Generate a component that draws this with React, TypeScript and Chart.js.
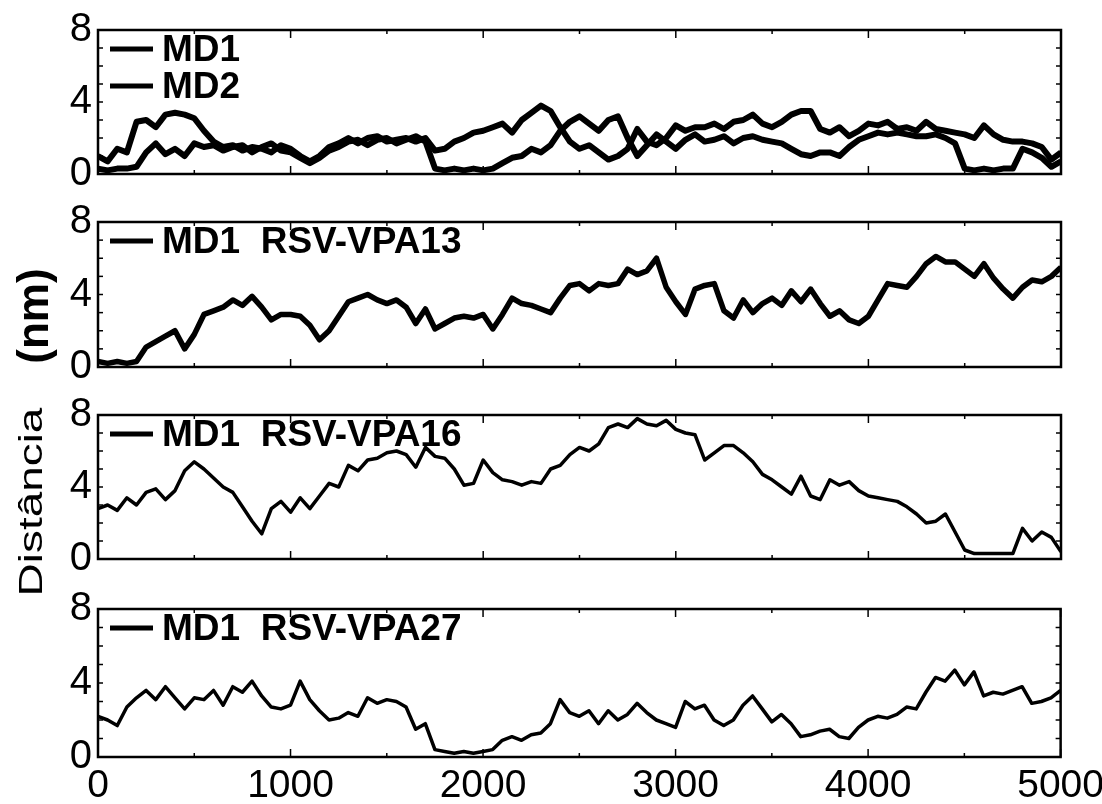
import React, { useEffect, useRef } from 'react';
import { Chart, registerables } from 'chart.js';

Chart.register(...registerables);

// ---------- data ----------
// simulation frames (x), sampled every 50 frames from 0 to 5000
const frames = Array.from({ length: 101 }, (_, i) => i * 50);

const xTickStep = 1000;
const xMinorStep = 500;
const yTickStep = 4;
const yMinorStep = 1;
const xMax = 5000;
const yMax = 8;

const md1 = [
  1.0, 0.7, 1.4, 1.2, 2.9, 3.0, 2.6, 3.3, 3.4, 3.3,
  3.1, 2.4, 1.8, 1.5, 1.6, 1.3, 1.5, 1.4, 1.2, 1.6,
  1.4, 1.0, 0.7, 1.0, 1.5, 1.7, 2.0, 1.7, 2.0, 2.1,
  1.8, 1.9, 2.0, 1.8, 2.0, 1.3, 1.4, 1.8, 2.0, 2.3,
  2.4, 2.6, 2.8, 2.3, 3.0, 3.4, 3.8, 3.5, 2.6, 1.8,
  1.4, 1.6, 1.2, 0.8, 1.0, 1.4, 2.5, 1.8, 1.6, 2.0,
  2.7, 2.4, 2.6, 2.6, 2.8, 2.5, 2.9, 3.0, 3.3, 2.8,
  2.6, 2.9, 3.3, 3.5, 3.5, 2.5, 2.3, 2.6, 2.1, 2.4,
  2.8, 2.7, 2.9, 2.5, 2.6, 2.4, 2.9, 2.5, 2.4, 2.3,
  2.2, 2.0, 2.7, 2.2, 1.9, 1.8, 1.8, 1.7, 1.5, 0.8,
  1.2,
];

const md2 = [
  0.3, 0.2, 0.3, 0.3, 0.4, 1.2, 1.7, 1.1, 1.4, 1.0,
  1.7, 1.5, 1.6, 1.3, 1.5, 1.6, 1.2, 1.5, 1.7, 1.3,
  1.2, 0.9, 0.6, 0.9, 1.3, 1.5, 1.8, 1.9, 1.6, 1.9,
  2.0, 1.7, 1.9, 2.1, 1.8, 0.3, 0.2, 0.3, 0.2, 0.3,
  0.2, 0.3, 0.6, 0.9, 1.0, 1.4, 1.2, 1.6, 2.4, 2.9,
  3.2, 2.8, 2.4, 3.0, 3.2, 2.0, 1.0, 1.6, 2.2, 1.8,
  1.4, 1.9, 2.2, 1.8, 1.9, 2.1, 1.7, 2.0, 2.1, 1.9,
  1.8, 1.7, 1.4, 1.1, 1.0, 1.2, 1.2, 1.0, 1.5, 1.9,
  2.1, 2.3, 2.2, 2.3, 2.2, 2.1, 2.1, 2.2, 2.0, 1.7,
  0.3, 0.2, 0.3, 0.2, 0.3, 0.3, 1.4, 1.2, 0.9, 0.4,
  0.7,
];

const vpa13 = [
  0.3, 0.2, 0.3, 0.2, 0.3, 1.1, 1.4, 1.7, 2.0, 1.0,
  1.8, 2.9, 3.1, 3.3, 3.7, 3.4, 3.9, 3.3, 2.6, 2.9,
  2.9, 2.8, 2.3, 1.5, 2.0, 2.8, 3.6, 3.8, 4.0, 3.7,
  3.5, 3.7, 3.3, 2.4, 3.2, 2.1, 2.4, 2.7, 2.8, 2.7,
  2.9, 2.1, 2.9, 3.8, 3.5, 3.4, 3.2, 3.0, 3.8, 4.5,
  4.6, 4.2, 4.6, 4.5, 4.6, 5.4, 5.1, 5.3, 6.0, 4.4,
  3.6, 2.9, 4.3, 4.5, 4.6, 3.1, 2.7, 3.7, 3.0, 3.5,
  3.8, 3.4, 4.2, 3.6, 4.3, 3.5, 2.8, 3.1, 2.6, 2.4,
  2.8, 3.7, 4.6, 4.5, 4.4, 5.0, 5.7, 6.1, 5.8, 5.8,
  5.4, 5.0, 5.7, 4.9, 4.3, 3.8, 4.4, 4.8, 4.7, 5.0,
  5.5,
];

const vpa16 = [
  2.8, 3.0, 2.7, 3.4, 3.0, 3.7, 3.9, 3.3, 3.8, 4.9,
  5.4, 5.0, 4.5, 4.0, 3.7, 2.9, 2.1, 1.4, 2.8, 3.2,
  2.6, 3.4, 2.8, 3.5, 4.2, 4.0, 5.2, 4.9, 5.5, 5.6,
  5.9, 6.0, 5.8, 5.1, 6.2, 5.7, 5.6, 5.0, 4.1, 4.2,
  5.5, 4.8, 4.4, 4.3, 4.1, 4.3, 4.2, 5.0, 5.2, 5.8,
  6.2, 6.0, 6.4, 7.3, 7.5, 7.3, 7.8, 7.5, 7.4, 7.7,
  7.2, 7.0, 6.9, 5.5, 5.9, 6.3, 6.3, 5.9, 5.4, 4.7,
  4.4, 4.0, 3.6, 4.6, 3.5, 3.3, 4.4, 4.1, 4.3, 3.8,
  3.5, 3.4, 3.3, 3.2, 2.9, 2.5, 2.0, 2.1, 2.5, 1.5,
  0.5, 0.3, 0.3, 0.3, 0.3, 0.3, 1.7, 1.0, 1.5, 1.2,
  0.4,
];

const vpa27 = [
  2.2, 2.0, 1.7, 2.7, 3.2, 3.6, 3.1, 3.8, 3.2, 2.6,
  3.2, 3.1, 3.6, 2.8, 3.8, 3.5, 4.1, 3.3, 2.7, 2.6,
  2.8, 4.1, 3.1, 2.5, 2.0, 2.1, 2.4, 2.2, 3.2, 2.9,
  3.1, 3.0, 2.7, 1.5, 1.8, 0.4, 0.3, 0.2, 0.3, 0.2,
  0.3, 0.4, 0.9, 1.1, 0.9, 1.2, 1.3, 1.8, 3.1, 2.4,
  2.2, 2.5, 1.8, 2.5, 2.0, 2.3, 2.9, 2.4, 2.0, 1.8,
  1.6, 3.0, 2.6, 2.8, 2.0, 1.7, 2.0, 2.8, 3.3, 2.6,
  1.9, 2.3, 1.8, 1.1, 1.2, 1.4, 1.5, 1.1, 1.0, 1.6,
  2.0, 2.2, 2.1, 2.3, 2.7, 2.6, 3.5, 4.3, 4.1, 4.7,
  3.9, 4.6, 3.3, 3.5, 3.4, 3.6, 3.8, 2.9, 3.0, 3.2,
  3.6,
];

const panelLabels = [
  ['MD1', 'MD2'],
  ['MD1  RSV-VPA13'],
  ['MD1  RSV-VPA16'],
  ['MD1  RSV-VPA27'],
];
const panelSeries = [[md1, md2], [vpa13], [vpa16], [vpa27]];

const yTitleRegular = 'Distância';
const yTitleBold = '(nm)';

// ---------- layout ----------
const CANVAS_W = 1110;
const PAD_TOP = 30;
const AXIS_W = 98;
const PAD_RIGHT = 49;
const panelBoxes = [
  { top: 30, bottom: 179, line: 6, showX: false },
  { top: 222, bottom: 372, line: 5.5, showX: false },
  { top: 415, bottom: 564, line: 3.5, showX: false },
  { top: 609, bottom: 757, line: 3.5, showX: true },
];
const FONT = "'Liberation Sans', Arial, Helvetica, sans-serif";

const framePlugin = {
  id: 'frameTicks',
  afterDatasetsDraw(chart: any) {
    const { ctx, chartArea: a } = chart;
    const x = chart.scales.x;
    const y = chart.scales.y;
    ctx.save();
    ctx.strokeStyle = '#000';
    ctx.lineWidth = 2.5;
    ctx.strokeRect(a.left, a.top, a.right - a.left, a.bottom - a.top);
    ctx.lineWidth = 1.5;
    const seg = (x1: number, y1: number, x2: number, y2: number) => {
      ctx.beginPath();
      ctx.moveTo(x1, y1);
      ctx.lineTo(x2, y2);
      ctx.stroke();
    };
    for (let v = 0; v <= xMax; v += xMinorStep) {
      const px = x.getPixelForValue(v);
      const len = v % xTickStep === 0 ? 8 : 4;
      seg(px, a.top, px, a.top + len);
      seg(px, a.bottom, px, a.bottom - len);
    }
    for (let v = 0; v <= yMax; v += yMinorStep) {
      const py = y.getPixelForValue(v);
      seg(a.left, py, a.left + 5, py);
      seg(a.right, py, a.right - 5, py);
    }
    ctx.restore();
  },
};

const legendPlugin = {
  id: 'panelLegend',
  afterDraw(chart: any) {
    const { ctx, chartArea: a } = chart;
    ctx.save();
    chart.data.datasets.forEach((ds: any, i: number) => {
      const yy = a.top + 19 + i * 37;
      ctx.strokeStyle = '#000';
      ctx.lineWidth = 5;
      ctx.beginPath();
      ctx.moveTo(a.left + 12, yy);
      ctx.lineTo(a.left + 55, yy);
      ctx.stroke();
      ctx.fillStyle = '#000';
      ctx.font = `bold 37px ${FONT}`;
      ctx.textBaseline = 'middle';
      ctx.textAlign = 'left';
      ctx.fillText(ds.label, a.left + 64, yy + 2);
    });
    ctx.restore();
  },
};

function panelHeight(i: number) {
  const b = panelBoxes[i];
  return PAD_TOP + (b.bottom - b.top) + (b.showX ? 47 : 25);
}

export default function App() {
  const refs = useRef<(HTMLCanvasElement | null)[]>([]);

  useEffect(() => {
    const charts: Chart[] = [];
    panelBoxes.forEach((box, i) => {
      const canvas = refs.current[i];
      if (!canvas) return;
      const datasets = panelSeries[i].map((vals, k) => ({
        label: panelLabels[i][k],
        data: frames.map((t, j) => ({ x: t, y: vals[j] })),
        borderColor: '#000',
        backgroundColor: '#000',
        borderWidth: box.line,
        pointRadius: 0,
        tension: 0,
        borderJoinStyle: 'round' as const,
      }));
      const c = new Chart(canvas, {
        type: 'line',
        data: { datasets },
        options: {
          animation: false,
          responsive: false,
          events: [],
          layout: {
            padding: { top: PAD_TOP, right: PAD_RIGHT, bottom: box.showX ? 0 : 25, left: 0 },
          },
          plugins: {
            legend: { display: false },
            tooltip: { enabled: false },
          },
          scales: {
            x: {
              type: 'linear',
              min: 0,
              max: xMax,
              grid: { display: false, drawTicks: false },
              border: { display: false },
              ticks: {
                display: box.showX,
                stepSize: xTickStep,
                color: '#000',
                padding: 6,
                maxRotation: 0,
                autoSkip: false,
                font: { family: FONT, size: 39 },
                callback: (v: any) => String(v),
              },
              afterFit: (s: any) => {
                s.height = box.showX ? 47 : 0;
              },
            },
            y: {
              type: 'linear',
              min: 0,
              max: yMax,
              grid: { display: false, drawTicks: false },
              border: { display: false },
              ticks: {
                stepSize: yTickStep,
                color: '#000',
                padding: 6,
                font: { family: FONT, size: 40 },
                callback: (v: any) => String(v),
              },
              afterFit: (s: any) => {
                s.width = AXIS_W;
              },
            },
          },
        },
        plugins: [framePlugin, legendPlugin],
      });
      charts.push(c);
    });
    return () => charts.forEach((c) => c.destroy());
  }, []);

  return (
    <div
      style={{
        position: 'absolute',
        left: 0,
        top: 0,
        width: 1102,
        height: 804,
        overflow: 'hidden',
        background: '#fff',
      }}
    >
      {panelBoxes.map((b, i) => (
        <canvas
          key={i}
          ref={(el) => {
            refs.current[i] = el;
          }}
          width={CANVAS_W}
          height={panelHeight(i)}
          style={{
            position: 'absolute',
            left: 0,
            top: b.top - PAD_TOP,
            width: CANVAS_W,
            height: panelHeight(i),
          }}
        />
      ))}
      <div
        style={{
          position: 'absolute',
          left: 30,
          top: 502,
          transform: 'translate(-50%, -50%) rotate(-90deg) scaleX(1.35)',
          whiteSpace: 'nowrap',
          fontFamily: FONT,
          fontSize: 34,
          color: '#000',
          lineHeight: 1,
        }}
      >
        {yTitleRegular}
      </div>
      <div
        style={{
          position: 'absolute',
          left: 33,
          top: 316,
          transform: 'translate(-50%, -50%) rotate(-90deg)',
          whiteSpace: 'nowrap',
          fontFamily: FONT,
          fontSize: 44,
          fontWeight: 'bold',
          color: '#000',
          lineHeight: 1,
        }}
      >
        {yTitleBold}
      </div>
    </div>
  );
}
